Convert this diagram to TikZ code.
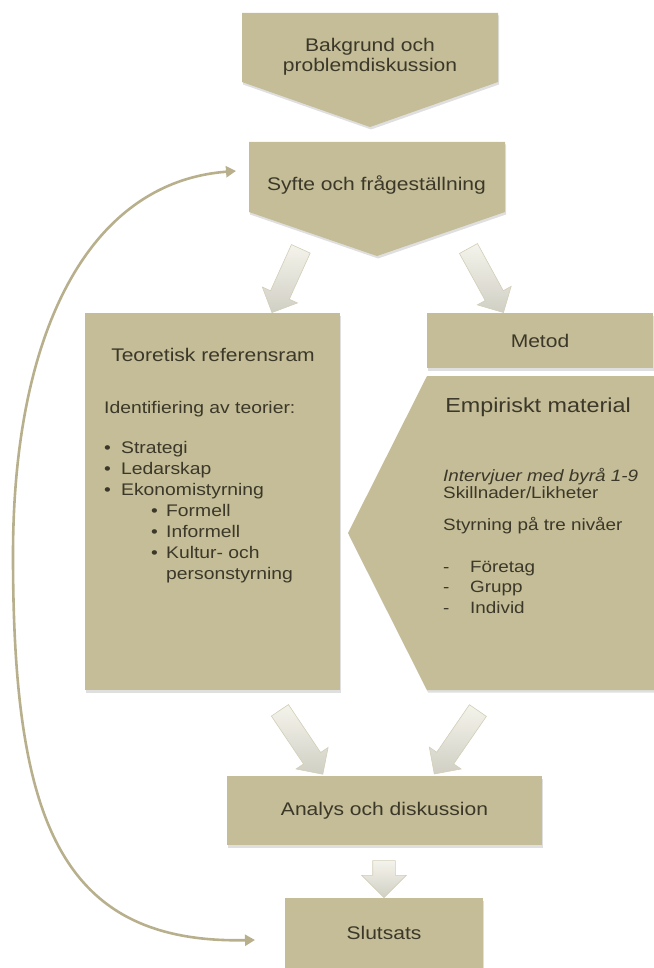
\documentclass[tikz,border=0pt]{standalone}
\usepackage{fontspec}
\setmainfont{Liberation Sans}[FakeStretch=1.15]
\usetikzlibrary{shapes.arrows, arrows.meta, shadows}
\definecolor{khaki}{HTML}{C4BD97}
\definecolor{morktext}{HTML}{3B3829}
\definecolor{kram}{HTML}{ECEADB}
\definecolor{kramkant}{HTML}{D2CEB8}
\definecolor{returfarg}{HTML}{B8B08C}

\begin{document}
\begin{tikzpicture}[x=1pt, y=-1pt,
    skugga/.style={drop shadow={shadow xshift=1pt, shadow yshift=-2.5pt, opacity=0.25}},
    box/.style={rectangle, fill=khaki, inner sep=0pt, skugga, text=morktext, font=\fontsize{18.3}{21}\selectfont},
    titel/.style={text=morktext, inner sep=0pt, align=center, font=\fontsize{18.3}{20.5}\selectfont},
    brodtext/.style={text=morktext, inner sep=0pt, align=left, anchor=north west, font=\fontsize{16.8}{21}\selectfont},
    pil/.style={single arrow, sloped, allow upside down, inner xsep=0pt, inner ysep=10pt,
        single arrow head extend=9pt, single arrow tip angle=90, minimum height=#1,
        draw=kramkant, line width=0.6pt, top color=kram!55!white, middle color=kram, bottom color=kram!75!gray},
    retur/.style={draw=returfarg, line width=2.6pt, {Triangle[length=10pt, width=11pt]}-{Triangle[length=10pt, width=11pt]}}]
    \useasboundingbox (0,0) rectangle (653,968);

    % bakgrund och syfte
    \path[fill=khaki, skugga] (242,13) -- (498,13) -- (498,82) -- (370,127) -- (242,82) -- cycle;
    \node[titel] (bakgrund) at (370,57) {Bakgrund och\\problemdiskussion};
    \path[fill=khaki, skugga] (249,142) -- (505,142) -- (505,212) -- (377,256) -- (249,212) -- cycle;
    \node[titel] (syfte) at (376.5,185) {Syfte och frågeställning};

    % teoretisk referensram
    \node[box, minimum width=255pt, minimum height=377pt] (teori) at (212.5,501.5) {};
    \node[titel] (teoriT) at (213,355) {Teoretisk referensram};
    \node[brodtext] (teoriL) at (104,401) {Identifiering av teorier:\\[19pt]
        \makebox[17pt][l]{\textbullet}Strategi\\
        \makebox[17pt][l]{\textbullet}Ledarskap\\
        \makebox[17pt][l]{\textbullet}Ekonomistyrning\\
        \hspace*{47pt}\makebox[15pt][l]{\textbullet}Formell\\
        \hspace*{47pt}\makebox[15pt][l]{\textbullet}Informell\\
        \hspace*{47pt}\makebox[15pt][l]{\textbullet}Kultur- och\\
        \hspace*{62pt}personstyrning};

    % metod och empiri
    \node[box, minimum width=226pt, minimum height=55pt] (metod) at (540,340.5) {Metod};
    \path[fill=khaki, skugga] (427,376) -- (660,376) -- (660,690) -- (427,690) -- (348,533) -- cycle;
    \node[titel, font=\fontsize{20.3}{22}\selectfont] (empiri) at (538,407) {Empiriskt material};
    \node[brodtext, font=\fontsize{16.4}{17.5}\selectfont] (empA) at (443,468) {\textit{Intervjuer med byrå 1-9}\\Skillnader/Likheter};
    \node[brodtext, font=\fontsize{16.4}{20.5}\selectfont] (empB) at (443,517) {Styrning på tre nivåer};
    \node[brodtext, font=\fontsize{16.4}{20.5}\selectfont] (empC) at (443,561) {\makebox[27pt][l]{-}Företag\\
        \makebox[27pt][l]{-}Grupp\\
        \makebox[27pt][l]{-}Individ};

    % analys och slutsats
    \node[box, minimum width=315pt, minimum height=69pt] (analys) at (384.5,810.5) {Analys och diskussion};
    \node[box, minimum width=198pt, minimum height=70pt] (slutsats) at (384,933) {Slutsats};

    % blockpilar
    \coordinate (p1s) at (303,244); \coordinate (p1e) at (274,308);
    \coordinate (p2s) at (466,244); \coordinate (p2e) at (501,308);
    \coordinate (p3s) at (277,706); \coordinate (p3e) at (320,770);
    \coordinate (p4s) at (481,706); \coordinate (p4e) at (437,770);
    \coordinate (p5s) at (384,855); \coordinate (p5e) at (384,892);
    \path (p1s) -- node[pil=70pt] (pil1) {} (p1e);
    \path (p2s) -- node[pil=73pt] (pil2) {} (p2e);
    \path (p3s) -- node[pil=77pt] (pil3) {} (p3e);
    \path (p4s) -- node[pil=77pt] (pil4) {} (p4e);
    \path (p5s) -- node[pil=37pt, inner ysep=11pt, single arrow head extend=11pt] (pil5) {} (p5e);

    % returpil
    \coordinate (r1) at (255,940);
    \coordinate (r2) at (236,171);
    \draw[retur] (r1) .. controls (60,944) and (13,820) .. (13,555)
        .. controls (13,330) and (90,182) .. (r2);
\end{tikzpicture}
\end{document}
